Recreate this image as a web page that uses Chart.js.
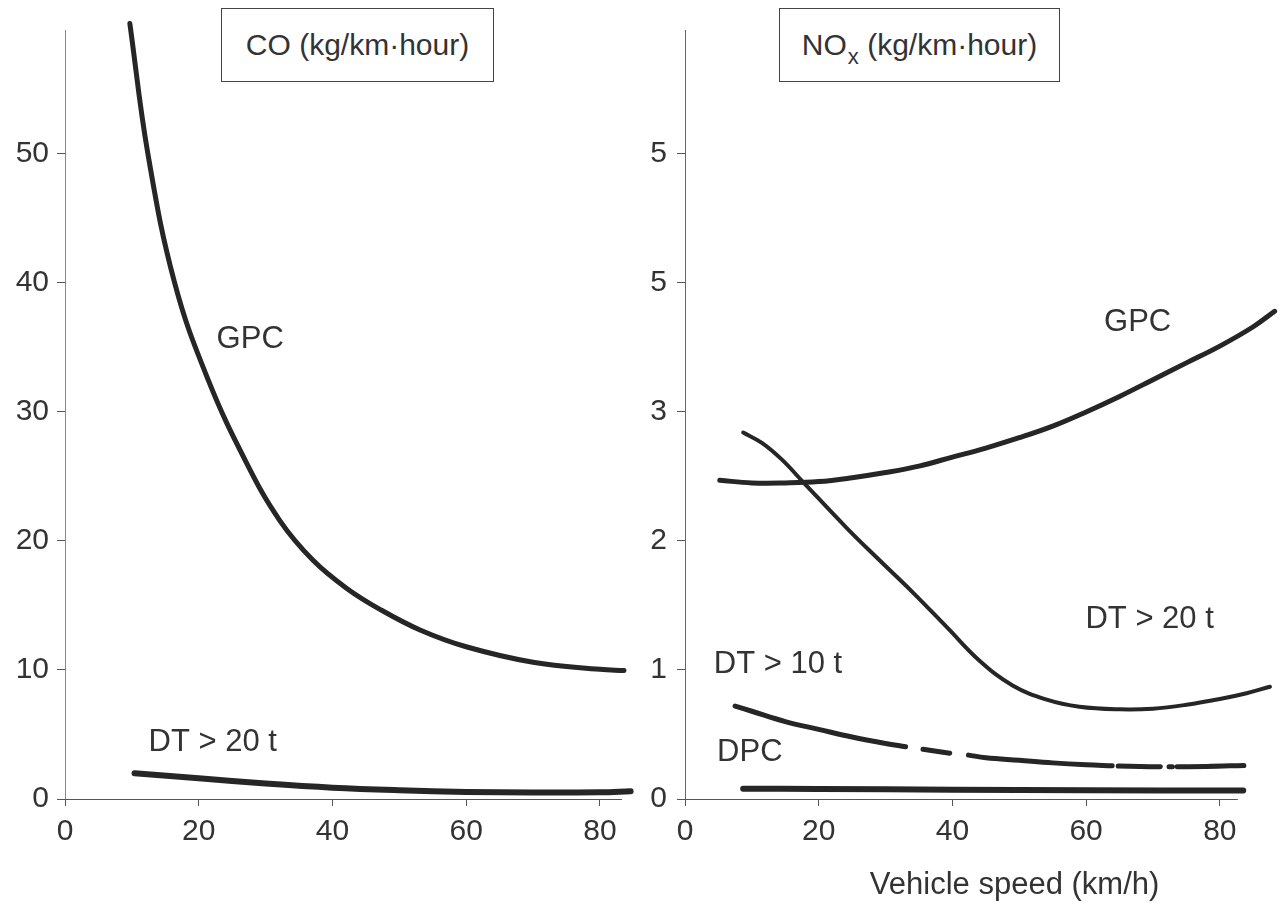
<!DOCTYPE html>
<html><head><meta charset="utf-8">
<script src="https://cdn.jsdelivr.net/npm/chart.js@4/dist/chart.umd.min.js"></script>
<style>
html,body{margin:0;padding:0;background:#fff;}
#wrap{position:relative;width:1280px;height:903px;overflow:hidden;}
.pane{position:absolute;top:0;width:640px;height:903px;}
.title{position:absolute;top:8px;height:74px;border:1.5px solid #444;box-sizing:border-box;font:30px "Liberation Sans",Arial,sans-serif;color:#333;display:flex;align-items:center;justify-content:center;background:#fff;white-space:nowrap}
.title sub{font-size:22px;position:relative;top:9px;vertical-align:baseline;line-height:0;margin-left:1px}
</style></head>
<body>
<div id="wrap">
  <div class="pane" style="left:0"><canvas id="co" width="640" height="903"></canvas></div>
  <div class="pane" style="left:640px"><canvas id="nox" width="640" height="903"></canvas></div>
  <div class="title" style="left:221px;width:273px"><span>CO (kg/km·hour)</span></div>
  <div class="title" style="left:779px;width:281px"><span>NO<sub>x</sub> (kg/km·hour)</span></div>
</div>
<script>
// ---------- DATA ----------
const speedTicks = [0, 20, 40, 60, 80];
const coTicks = [0, 10, 20, 30, 40, 50];
const coTickLabels = ["0", "10", "20", "30", "40", "50"];
const noxTicks = [0, 1, 2, 3, 4, 5];
const noxTickLabels = ["0", "1", "2", "3", "5", "5"];

// CO panel
const coGpcSpeed = [9.7, 12.4, 16.4, 21.4, 27.2, 32.1, 37.1, 42.2, 47.1, 53.1, 60, 70, 80, 83.6];
const coGpcValue = [60.1, 50.0, 40.0, 32.5, 26.0, 21.6, 18.5, 16.3, 14.7, 13.1, 11.8, 10.6, 10.05, 9.95];
const coDt20Speed = [10.4, 20, 30, 40, 50, 60, 70, 80, 84.6];
const coDt20Value = [2.0, 1.6, 1.2, 0.88, 0.68, 0.55, 0.5, 0.52, 0.6];

// NOx panel
const noxGpcSpeed = [5.2, 10, 15, 20, 25, 30, 35, 40, 45, 50, 55, 60, 65, 70, 75, 80, 85, 88.2];
const noxGpcValue = [2.47, 2.45, 2.45, 2.46, 2.49, 2.53, 2.58, 2.65, 2.72, 2.80, 2.89, 3.0, 3.12, 3.25, 3.38, 3.51, 3.66, 3.78];
const noxDt20Speed = [8.7, 11.5, 14.5, 17.6, 24.2, 29.1, 34.1, 39.2, 44.1, 49, 54.1, 59, 65, 70, 75, 80, 84, 87.5];
const noxDt20Value = [2.84, 2.76, 2.63, 2.46, 2.10, 1.85, 1.60, 1.33, 1.07, 0.88, 0.77, 0.715, 0.695, 0.70, 0.73, 0.775, 0.82, 0.87];
// broken line: null marks a gap in the printed curve
const noxDt10Speed = [7.5, 10, 15, 20, 25, 30, 33, 34.3, 35.6, 39.6, 41, 42.4, 45, 50, 55, 60, 63.9, 64.3, 64.8, 68, 71.1, 71.8, 72.4, 72.9, 73.2, 73.6, 78, 83.6];
const noxDt10Value = [0.72, 0.68, 0.60, 0.54, 0.48, 0.43, 0.405, null, 0.385, 0.355, null, 0.34, 0.32, 0.30, 0.28, 0.265, 0.257, null, 0.256, 0.252, 0.25, null, 0.25, 0.25, null, 0.25, 0.252, 0.26];
const noxDpcSpeed = [8.7, 20, 40, 60, 83.5];
const noxDpcValue = [0.08, 0.078, 0.072, 0.068, 0.065];

// ---------- HELPERS ----------
const FONT = '"Liberation Sans", Arial, Helvetica, sans-serif';
const INK = '#262626';
const pts = (xs, ys) => xs.map((x, i) => ({ x: x, y: ys[i] }));

function ds(xs, ys, width) {
  return {
    data: pts(xs, ys), borderColor: INK, borderWidth: width, pointRadius: 0,
    tension: 0.4, spanGaps: false, clip: false,
    borderCapStyle: 'round', borderJoinStyle: 'round', fill: false
  };
}

const labelPlugin = {
  id: 'curveLabels',
  beforeDatasetsDraw(chart, args, opts) {
    // x-axis line that stops short of the right end of the plot
    const { ctx, chartArea, scales: { x } } = chart;
    ctx.save();
    ctx.strokeStyle = '#555';
    ctx.lineWidth = 1.2;
    ctx.beginPath();
    ctx.moveTo(chartArea.left, chartArea.bottom + 0.5);
    ctx.lineTo(x.getPixelForValue(opts.axisEnd), chartArea.bottom + 0.5);
    ctx.stroke();
    ctx.restore();
  },
  afterDatasetsDraw(chart, args, opts) {
    const { ctx, scales: { x, y } } = chart;
    ctx.save();
    ctx.font = '31px ' + FONT;
    ctx.fillStyle = '#333';
    ctx.textAlign = 'center';
    ctx.textBaseline = 'middle';
    (opts.items || []).forEach(it => ctx.fillText(it.text, x.getPixelForValue(it.x), y.getPixelForValue(it.y)));
    if (opts.axisTitle) {
      ctx.fillText(opts.axisTitle.text, x.getPixelForValue(opts.axisTitle.x), chart.chartArea.bottom + opts.axisTitle.offset);
    }
    ctx.restore();
  }
};

function makeChart(id, cfg) {
  return new Chart(document.getElementById(id), {
    type: 'line',
    data: { datasets: cfg.datasets },
    options: {
      responsive: false, animation: false, events: [],
      layout: { padding: { top: 30, right: 0, left: 0, bottom: 0 } },
      plugins: { legend: { display: false }, tooltip: { enabled: false }, curveLabels: cfg.labels },
      scales: {
        x: {
          type: 'linear', min: 0, max: cfg.xMax,
          afterBuildTicks: s => { s.ticks = speedTicks.map(v => ({ value: v })); },
          afterFit: s => { s.height = 104; },
          grid: { drawOnChartArea: false, drawTicks: true, tickLength: 7, color: '#555', lineWidth: 1 },
          border: { display: false },
          ticks: { color: '#333', font: { family: FONT, size: 30 }, padding: 8, maxRotation: 0,
                   callback: v => String(v) }
        },
        y: {
          type: 'linear', min: 0, max: cfg.yMax,
          afterBuildTicks: s => { s.ticks = cfg.yTicks.map(v => ({ value: v })); },
          afterFit: s => { s.width = cfg.yWidth; },
          grid: { drawOnChartArea: false, drawTicks: true, tickLength: 8, color: '#555', lineWidth: 1 },
          border: { color: cfg.yAxisColor, width: 1, dash: cfg.yDash },
          ticks: { color: '#333', font: { family: FONT, size: 30 }, padding: cfg.yPad,
                   callback: (v, i) => cfg.yLabels[i] }
        }
      }
    },
    plugins: [labelPlugin]
  });
}

makeChart('co', {
  datasets: [ds(coGpcSpeed, coGpcValue, 5), ds(coDt20Speed, coDt20Value, 6)],
  xMax: 86, yMax: 59.6, yTicks: coTicks, yLabels: coTickLabels,
  yWidth: 65, yPad: 8, yAxisColor: '#888', yDash: [7, 3],
  labels: { axisEnd: 83.3, items: [
    { text: 'GPC', x: 27.7, y: 35.6 },
    { text: 'DT > 20 t', x: 22.1, y: 4.4 }
  ] }
});

makeChart('nox', {
  datasets: [ds(noxGpcSpeed, noxGpcValue, 5), ds(noxDt20Speed, noxDt20Value, 4),
             ds(noxDt10Speed, noxDt10Value, 5), ds(noxDpcSpeed, noxDpcValue, 6)],
  xMax: 89, yMax: 5.96, yTicks: noxTicks, yLabels: noxTickLabels,
  yWidth: 45, yPad: 10, yAxisColor: '#666', yDash: [],
  labels: { axisEnd: 82.7, items: [
    { text: 'GPC', x: 67.7, y: 3.69 },
    { text: 'DT > 20 t', x: 69.5, y: 1.39 },
    { text: 'DT > 10 t', x: 13.9, y: 1.04 },
    { text: 'DPC', x: 9.7, y: 0.36 }
  ], axisTitle: { text: 'Vehicle speed (km/h)', x: 49.3, offset: 86 } }
});
</script>
</body></html>
